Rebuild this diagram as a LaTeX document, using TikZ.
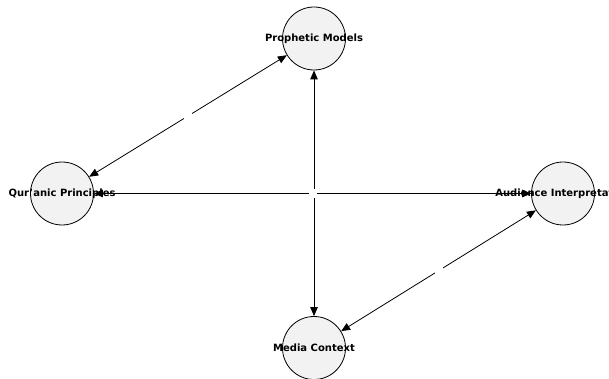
\documentclass[tikz,border=0pt]{standalone}
\usepackage{fontspec}
\setmainfont{DejaVu Sans}
\usetikzlibrary{arrows.meta}
\begin{document}
\begin{tikzpicture}[x=1pt,y=-1pt,
  circ/.style={circle,draw=black,line width=0.8pt,fill=black!5,minimum size=63pt,inner sep=0pt},
  lbl/.style={font=\bfseries\fontsize{10}{12}\selectfont,text=black,inner sep=0pt},
  link/.style={line width=0.8pt,{Triangle[length=9pt,width=7.5pt]}-{Triangle[length=9pt,width=7.5pt]}},
  gap/.style={fill=white,inner sep=0pt,minimum size=8pt}]
\useasboundingbox (0,0) rectangle (609,379);
\fill[white] (0,0) rectangle (609,379);
\node[circ] (p) at (314,38.5) {};
\node[circ] (q) at (62,193.5) {};
\node[circ] (a) at (563,193.5) {};
\node[circ] (m) at (314,348) {};
\node[lbl] (pl) at (p) {Prophetic Models};
\node[lbl] (ql) at (q) {Qur’anic Principles};
\node[lbl] (al) at (a) {Audience Interpretation};
\node[lbl] (ml) at (m) {Media Context};
\draw[link] (q) -- node[gap] (g1) {} (p);
\draw[link] (p) -- node[gap] (g2) {} (m);
\draw[link] (q) -- node[gap] (g3) {} (a);
\draw[link] (m) -- node[gap] (g4) {} (a);
\end{tikzpicture}
\end{document}
